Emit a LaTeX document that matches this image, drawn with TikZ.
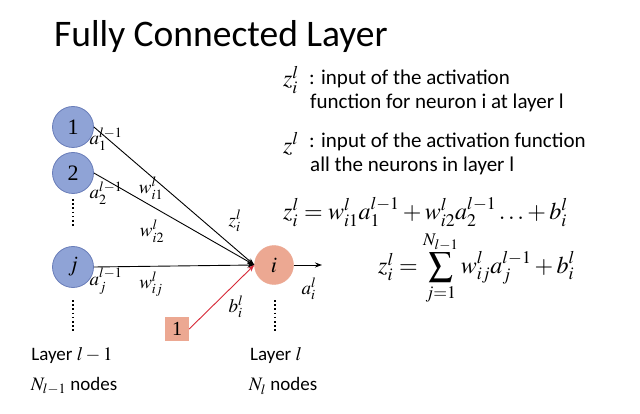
\documentclass[tikz,border=0pt]{standalone}
\usepackage{mathptmx}
\usepackage{fontspec}
\setmainfont{Carlito}
\newfontfamily\serifnum{Liberation Serif}
\usetikzlibrary{arrows.meta}
\definecolor{nblue}{RGB}{143,163,214}
\definecolor{nbluedark}{RGB}{105,125,185}
\definecolor{nsalmon}{RGB}{236,168,146}
\definecolor{redline}{RGB}{215,40,55}
\tikzset{
  inneuron/.style={circle, minimum size=41pt, inner sep=0pt, fill=nblue, draw=nbluedark, line width=0.8pt, font=\serifnum\fontsize{22}{22}\selectfont},
  outneuron/.style={circle, minimum size=39pt, inner sep=0pt, fill=nsalmon, draw=nsalmon, font=\serifnum\fontsize{22}{22}\selectfont},
  biasbox/.style={rectangle, minimum size=24pt, inner sep=0pt, fill=nsalmon, font=\serifnum\fontsize{20}{20}\selectfont},
  lbl/.style={inner sep=0pt, font=\fontsize{19}{19}\selectfont},
  txt/.style={inner sep=0pt, anchor=west, font=\fontsize{21}{21}\selectfont},
  laytxt/.style={inner sep=0pt, font=\fontsize{19}{19}\selectfont},
  edge/.style={line width=0.9pt, -{Stealth[length=7pt,width=5pt]}},
  vdots/.style={line width=2.2pt, dash pattern=on 1.6pt off 2.6pt}
}
\begin{document}
\begin{tikzpicture}[x=1pt,y=-1pt]
\useasboundingbox (0,0) rectangle (640,414);
\fill[white] (0,0) rectangle (640,414);
% title
\node[anchor=west, inner sep=0pt, font=\fontsize{37.5}{37.5}\selectfont] (title) at (54,37) {Fully Connected Layer};
% neurons
\node[inneuron] (n1) at (73,127) {1};
\node[inneuron] (n2) at (73,173) {2};
\node[inneuron] (nj) at (73,267) {$j$};
\node[outneuron] (ni) at (274,265) {$i$};
\node[biasbox] (b1) at (177,329) {1};
% dots
\coordinate (d1a) at (73,199); \coordinate (d1b) at (73,228);
\coordinate (d2a) at (73,300); \coordinate (d2b) at (73,331);
\coordinate (d3a) at (275,300); \coordinate (d3b) at (275,331);
\draw[vdots] (d1a) -- (d1b);
\draw[vdots] (d2a) -- (d2b);
\draw[vdots] (d3a) -- (d3b);
% edges
\draw[edge] (n1.east) -- (ni.west);
\draw[edge] (n2.east) -- (ni.west);
\draw[edge] (nj.east) -- (ni.west);
\draw[redline, line width=0.9pt, -{Stealth[length=7pt,width=5pt]}] (b1.east) -- (ni.west);
\coordinate (outend) at (322,265);
\draw[edge] (ni.east) -- (outend);
% edge labels
\node[lbl] (la1) at (106,139) {$a_1^{l-1}$};
\node[lbl] (la2) at (106,193) {$a_2^{l-1}$};
\node[lbl] (law1) at (151,188) {$w_{i1}^{l}$};
\node[lbl] (law2) at (152,231) {$w_{i2}^{l}$};
\node[lbl] (lz) at (235,221) {$z_i^{l}$};
\node[lbl] (laj) at (106,281) {$a_j^{l-1}$};
\node[lbl] (lwj) at (151,284) {$w_{ij}^{l}$};
\node[lbl] (lb) at (236,307) {$b_i^{l}$};
\node[lbl] (lai) at (309,289) {$a_i^{l}$};
% layer labels
\node[laytxt] (lay1) at (72,355) {Layer $l-1$};
\node[laytxt] (lay1n) at (74,386) {$N_{l-1}$ nodes};
\node[laytxt] (lay2) at (276,355) {Layer $l$};
\node[laytxt] (lay2n) at (283,386) {$N_{l}$ nodes};
% right texts
\node[inner sep=0pt, font=\fontsize{24}{24}\selectfont] (zil) at (291,80) {$z_i^{l}$};
\node[txt] (t1) at (309,79) {: input of the activation};
\node[txt] (t2) at (310,103) {function for neuron i at layer l};
\node[inner sep=0pt, font=\fontsize{24}{24}\selectfont] (zl) at (291,144) {$z^{l}$};
\node[txt] (t3) at (309,142) {: input of the activation function};
\node[txt] (t4) at (310,166) {all the neurons in layer l};
% equations
\node[inner sep=0pt, anchor=west, font=\fontsize{24}{24}\selectfont] (eq1) at (283,212) {$z_i^{l}=w_{i1}^{l}a_1^{l-1}+w_{i2}^{l}a_2^{l-1}\ldots+b_i^{l}$};
\node[inner sep=0pt, anchor=west, font=\fontsize{24}{24}\selectfont] (eq2) at (378,268) {$z_i^{l}=\displaystyle\sum_{j=1}^{N_{l-1}}w_{ij}^{l}a_j^{l-1}+b_i^{l}$};
\end{tikzpicture}
\end{document}
